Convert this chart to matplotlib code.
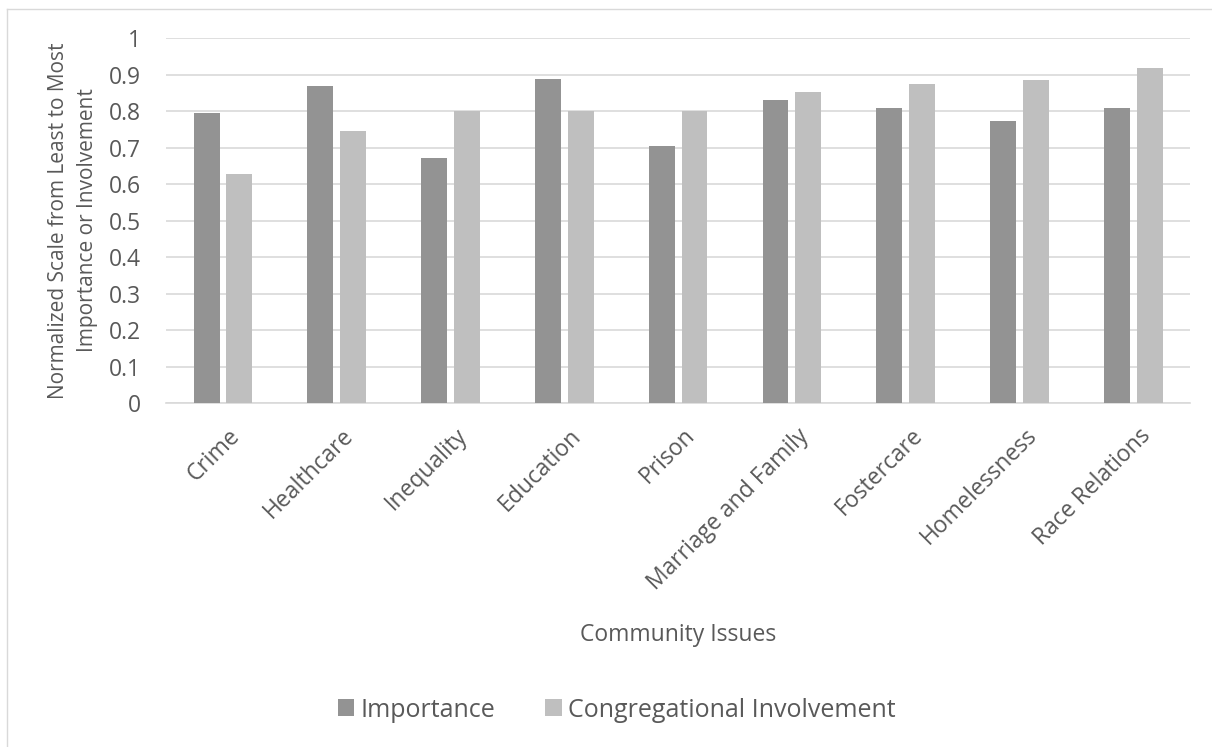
import matplotlib.pyplot as plt
import matplotlib.transforms as mtransforms
import numpy as np
from matplotlib.lines import Line2D

categories = ["Crime", "Healthcare", "Inequality", "Education", "Prison",
              "Marriage and Family", "Fostercare", "Homelessness", "Race Relations"]
importance = [0.795, 0.868, 0.672, 0.888, 0.703, 0.829, 0.807, 0.774, 0.809]
involvement = [0.628, 0.744, 0.800, 0.800, 0.801, 0.851, 0.873, 0.886, 0.918]
y_ticks = [0, 0.1, 0.2, 0.3, 0.4, 0.5, 0.6, 0.7, 0.8, 0.9, 1]
y_tick_labels = ["0", "0.1", "0.2", "0.3", "0.4", "0.5", "0.6", "0.7", "0.8", "0.9", "1"]

plt.rcParams['font.family'] = ['Open Sans', 'DejaVu Sans']
text_color = '#595959'

fig = plt.figure(figsize=(12.12, 7.47), dpi=100)
ax = fig.add_axes([0.137, 0.4605, 0.845, 0.4886])

x = np.arange(len(categories))
w = 0.228
gap = 0.06
ax.bar(x - (w + gap) / 2, importance, w, color='#939393', label='Importance', zorder=3)
ax.bar(x + (w + gap) / 2, involvement, w, color='#BFBFBF', label='Congregational Involvement', zorder=3)

ax.set_xlim(-0.5, len(categories) - 0.5)
ax.set_ylim(0, 1)
ax.set_yticks(y_ticks)
ax.set_yticklabels(y_tick_labels)
ax.set_xticks(x)
ax.set_xticklabels(categories, rotation=45, ha='right', rotation_mode='anchor')
ax.tick_params(axis='both', length=0, colors=text_color, labelsize=16.5)
ax.tick_params(axis='y', pad=18)
ax.tick_params(axis='x', pad=15)
# nudge the slanted labels a bit to the right, like the original
shift = mtransforms.ScaledTranslation(5 / 100, 0, fig.dpi_scale_trans)
for lbl in ax.get_xticklabels():
    lbl.set_transform(lbl.get_transform() + shift)

ax.grid(axis='y', color='#D9D9D9', linewidth=1.2, zorder=0)
for s in ['top', 'right', 'left']:
    ax.spines[s].set_visible(False)
ax.spines['bottom'].set_color('#D9D9D9')
ax.spines['bottom'].set_linewidth(1.2)

fig.text(0.0606, 0.705, "Normalized Scale from Least to Most\nImportance or Involvement",
         rotation=90, ha='center', va='center', fontsize=15, color=text_color,
         linespacing=1.5, multialignment='center')
fig.text(0.5594, 0.15, "Community Issues", ha='center', va='center',
         fontsize=16.5, color=text_color)

fig.legend(loc='center', bbox_to_anchor=(0.509, 0.0495), ncol=2, frameon=False,
           fontsize=18, labelcolor=text_color, handlelength=0.65, handleheight=0.65,
           handletextpad=0.25, columnspacing=2.0)

# light chart-area border (left and top edges show in the original)
fig.add_artist(Line2D([7 / 1212, 7 / 1212], [0, 1 - 9 / 747], transform=fig.transFigure,
                      color='#D9D9D9', linewidth=1))
fig.add_artist(Line2D([7 / 1212, 1], [1 - 9 / 747, 1 - 9 / 747], transform=fig.transFigure,
                      color='#D9D9D9', linewidth=1))

fig.savefig('out.png', dpi=100, facecolor='white')
